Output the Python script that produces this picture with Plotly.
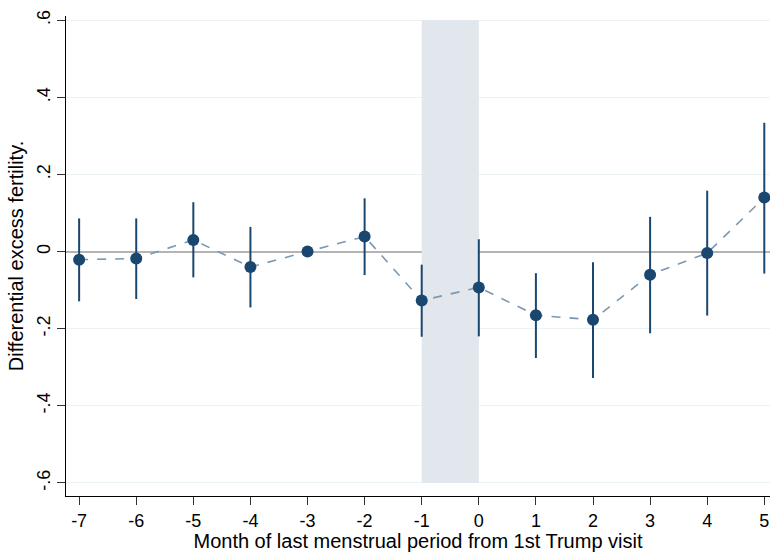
import plotly.graph_objects as go

months = [-7, -6, -5, -4, -3, -2, -1, 0, 1, 2, 3, 4, 5]
month_labels = ["-7", "-6", "-5", "-4", "-3", "-2", "-1", "0", "1", "2", "3", "4", "5"]
coef = [-0.021, -0.018, 0.030, -0.040, 0.000, 0.039, -0.127, -0.093, -0.165, -0.177, -0.060, -0.004, 0.140]
ci_hi = [0.086, 0.086, 0.128, 0.064, 0.000, 0.138, -0.034, 0.032, -0.056, -0.028, 0.090, 0.158, 0.334]
ci_lo = [-0.129, -0.123, -0.067, -0.145, 0.000, -0.061, -0.221, -0.220, -0.276, -0.328, -0.212, -0.166, -0.057]

shade_range = [-1, 0]
y_ticks = [-0.6, -0.4, -0.2, 0, 0.2, 0.4, 0.6]
y_ticklabels = ["-.6", "-.4", "-.2", "0", ".2", ".4", ".6"]

navy = "#1a476f"
font = "Liberation Sans, Arial, sans-serif"

fig = go.Figure()

fig.add_shape(type="rect", x0=shade_range[0], x1=shade_range[1], y0=y_ticks[0], y1=y_ticks[-1],
              xref="x", yref="y", fillcolor="#e1e7ec", line_width=0, layer="between")

fig.add_trace(go.Scatter(
    x=months, y=coef, mode="lines",
    line=dict(color="#7b98b4", width=1.6, dash="dash"),
    showlegend=False, hoverinfo="skip"))

fig.add_trace(go.Scatter(
    x=months, y=coef, mode="markers",
    marker=dict(color=navy, size=12),
    error_y=dict(type="data", symmetric=False,
                 array=[h - c for h, c in zip(ci_hi, coef)],
                 arrayminus=[c - l for c, l in zip(coef, ci_lo)],
                 color=navy, thickness=2, width=0),
    cliponaxis=False,
    showlegend=False))

fig.update_layout(
    width=770, height=552,
    margin=dict(l=66, r=0, t=16, b=56),
    paper_bgcolor="white", plot_bgcolor="white",
    font=dict(family=font, size=17, color="black"),
    xaxis=dict(range=[-7.23, 5.1], tickvals=months, ticktext=month_labels,
               ticks="outside", ticklen=8,
               tickcolor="#333", showgrid=False, zeroline=False,
               showline=True, linecolor="black", linewidth=1,
               title=dict(text="Month of last menstrual period from 1st Trump visit", standoff=2),
               tickfont=dict(size=18)),
    yaxis=dict(range=[-0.634, 0.611], tickvals=y_ticks, ticktext=y_ticklabels,
               tickangle=-90, ticks="outside", ticklen=8, tickcolor="#333",
               showgrid=True, gridcolor="#eaf2f3", gridwidth=1,
               zeroline=True, zerolinecolor="#b4b4b4", zerolinewidth=1.5,
               showline=True, linecolor="black", linewidth=1,
               title=dict(text="Differential excess fertility.", standoff=4),
               tickfont=dict(size=18)),
)

fig.write_html("out.html", config={"displayModeBar": False},
               post_script="document.body.style.margin='0';document.body.style.overflow='hidden';")
